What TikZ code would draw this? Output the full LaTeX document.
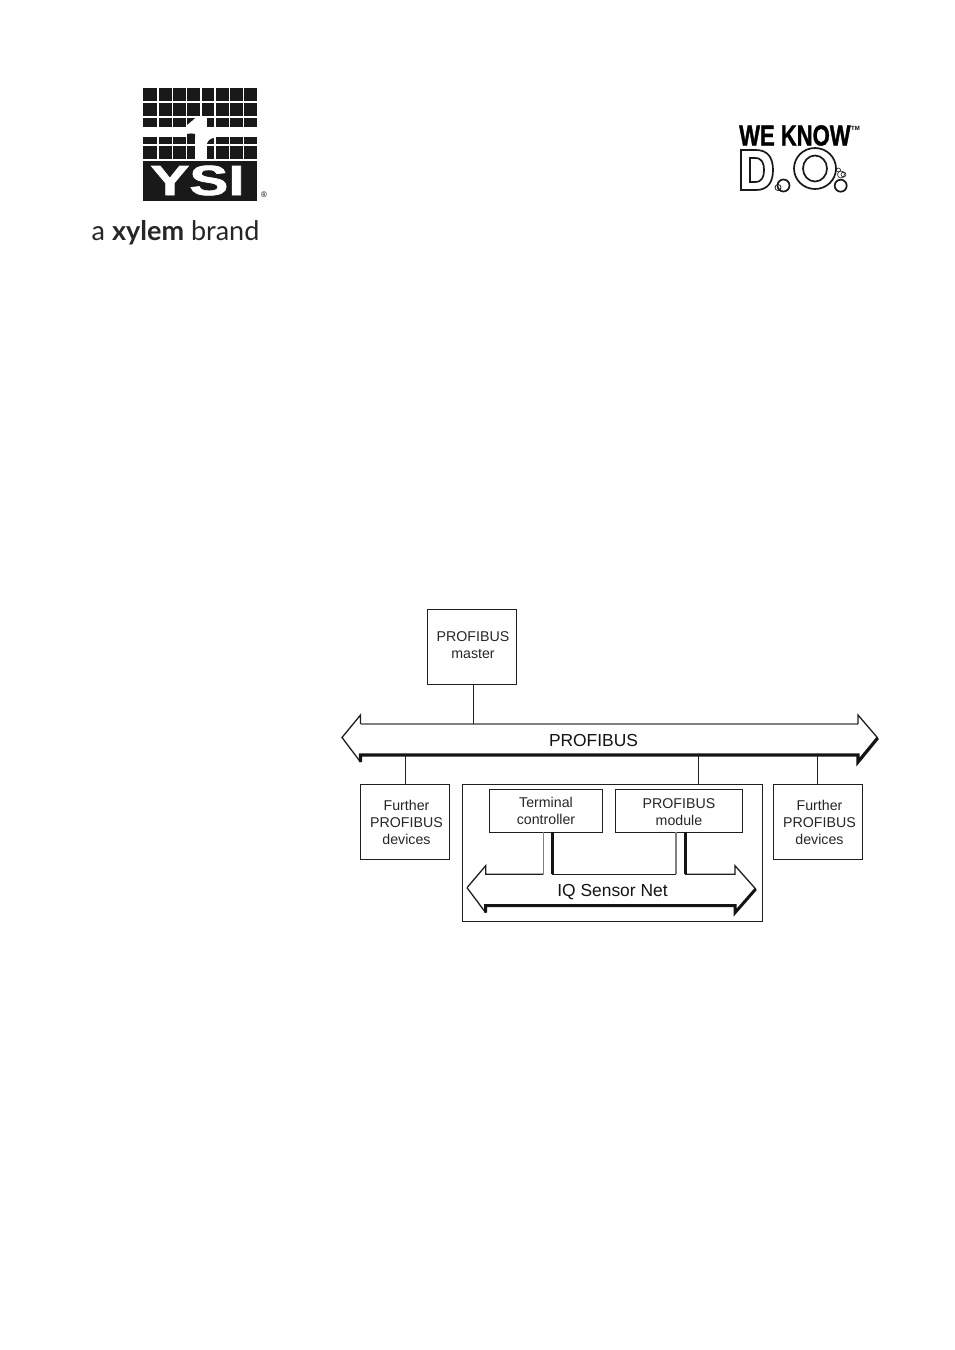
\documentclass[tikz,border=0pt]{standalone}
\usepackage{graphicx}
\usepackage{fontspec}
\setmainfont{Liberation Sans}
\newfontfamily\latofont{Lato}
\newfontfamily\heavyfont[FakeBold=1.5]{Liberation Sans Bold}
\newcommand{\fs}[2]{\fontsize{#1}{#2}\selectfont}
\tikzset{
  wire/.style={line width=1.3pt,draw=black!88},
  greywire/.style={line width=1.3pt,draw=black!50},
  thickwire/.style={line width=3.2pt,draw=black!92},
  boxnode/.style={draw=black!88,line width=1.3pt,fill=white,inner sep=0pt,outer sep=0pt,anchor=north west},
  smalltext/.style={text=black!85,inner sep=0pt,align=center,font=\fs{14.2}{17}},
  bigtext/.style={text=black!92,inner sep=0pt,font=\fs{17.4}{20}},
  cell/.style={fill=black!90,draw=none},
  logowhite/.style={fill=white,draw=none},
  ring/.style={draw=black!90,fill=white,line width=1.7pt},
}
\begin{document}
\begin{tikzpicture}[x=1pt,y=-1pt]
\useasboundingbox[fill=white] (0,0) rectangle (954,1350);

% --- YSI logo
\foreach \a/\b in {143.3/157.3,159/171.7,173/185.7,187/200.3,201.7/214.3,215.7/229,230.3/243,244.3/257.3}{
  \foreach \c/\d in {88/101.3,103.3/116.3,118.3/126.7,137.3/144.3,146.3/159.3}{
    \fill[cell] (\a,\c) rectangle (\b,\d);
  }
}
\fill[cell] (143.3,161) rectangle (257.3,200.7);
\fill[logowhite] (195,118.3) rectangle (206.7,161);
\fill[logowhite] (187,127) -- (187,125) .. controls (190,123) and (193,120) .. (195,118.3) -- (196,127) -- cycle;
\fill[cell] (187,137.4) -- (187,134) .. controls (190,133.5) and (193,133) .. (195,134) -- (195,137.4) -- cycle;
\fill[logowhite] (206,136.8) -- (215,136.8) -- (215,137.8) .. controls (210,138) and (207,141) .. (206.7,145) -- (206,145) -- cycle;
\node[inner sep=0pt,text=white] (ysi) at (197.5,180.5) {\heavyfont\fs{39}{39}\scalebox{1.5}[1.08]{YSI}};
\node[inner sep=0pt,text=black] (reg) at (264,195) {\fs{8}{9}®};
\node[inner sep=0pt,anchor=base west,text=black!85] (brand) at (91.5,240.3) {\latofont\fs{27}{30}a \textbf{xylem} brand};

% --- We know D.O. logo
\node[inner sep=0pt,anchor=base west,text=black] (weknow) at (739,145.5) {\heavyfont\fs{29}{29}\scalebox{0.76}[1]{WE KNOW}};
\node[inner sep=0pt,text=black] (tm) at (855.5,128) {\bfseries\fs{6}{7}TM};
\draw[ring,even odd rule] (741,150) -- (756,150) .. controls (768,150) and (773,158) .. (773,170)
  .. controls (773,182) and (768,190) .. (756,190) -- (741,190) -- cycle
  (750,158) -- (755,158) .. controls (762,158) and (764,163) .. (764,170)
  .. controls (764,177) and (762,182) .. (755,182) -- (750,182) -- cycle;
\draw[ring] (815,168.5) ellipse [x radius=21,y radius=20.5];
\draw[ring] (815,168.5) ellipse [x radius=12,y radius=13];
\draw[ring] (783.5,185.5) circle [radius=6];
\draw[draw=black!90,line width=0.8pt] (778,187.5) circle [radius=3];
\draw[ring] (840.7,185.7) circle [radius=6];
\draw[draw=black!90,line width=0.6pt] (838.5,170) circle [radius=2];
\draw[draw=black!90,line width=0.6pt] (841,174.5) circle [radius=3.5];
\draw[draw=black!90,line width=0.6pt] (843.5,174.5) circle [radius=2.5];

% --- main bus
\coordinate (busL) at (342,737.5);
\coordinate (busLt) at (360.5,715);
\coordinate (busLs) at (360.5,724);
\coordinate (busLb) at (360.5,755);
\coordinate (busLe) at (360.5,762);
\coordinate (busR) at (877.7,738);
\coordinate (busRt) at (858,715);
\coordinate (busRs) at (858,724);
\coordinate (busRb) at (858,755);
\coordinate (busRe) at (858,762);
\fill[white] (busL) -- (busLt) -- (busLs) -- (busRs) -- (busRt) -- (busR) -- (busRe) -- (busRb) -- (busLb) -- (busLe) -- cycle;
\draw[greywire] (busLs) -- (busRs);
\draw[wire] (busRs) -- (busRt) -- (busR);
\draw[wire] (busLs) -- (busLt) -- (busL) -- (busLe);
\draw[thickwire,line join=miter] (busLe) -- (busLb) -- (busRb) -- (busRe) -- (busR);
\node[bigtext] (busT) at (593.5,740) {PROFIBUS};

% --- boxes
\node[boxnode,minimum width=89.4pt,minimum height=75pt] (master) at (427.3,609.3) {};
\node[smalltext] (masterT) at (473,645) {PROFIBUS\\master};
\node[boxnode,minimum width=89.4pt,minimum height=75pt] (furtherL) at (360.3,784.3) {};
\node[smalltext] (furtherLT) at (406.5,822) {Further\\PROFIBUS\\devices};
\node[boxnode,minimum width=89.4pt,minimum height=75pt] (furtherR) at (773.3,784.3) {};
\node[smalltext] (furtherRT) at (819.5,822) {Further\\PROFIBUS\\devices};
\node[boxnode,minimum width=300.4pt,minimum height=137.4pt] (iq) at (462.3,784.3) {};
\node[boxnode,minimum width=113pt,minimum height=43pt] (terminal) at (489.7,789.3) {};
\node[smalltext] (terminalT) at (546,810.5) {Terminal\\controller};
\node[boxnode,minimum width=127pt,minimum height=43pt] (module) at (615.3,789.3) {};
\node[smalltext] (moduleT) at (679,812.5) {PROFIBUS\\module};

% --- links to the main bus
\coordinate (j1) at (473.3,724);
\coordinate (j2) at (405.3,755);
\coordinate (j3) at (698.3,755);
\coordinate (j4) at (817.3,755);
\draw[wire] (master.south -| j1) -- (j1);
\draw[wire] (j2) -- (furtherL.north -| j2);
\draw[wire] (j3) -- (iq.north -| j3);
\draw[wire] (j4) -- (furtherR.north -| j4);

% --- inner bus
\coordinate (inL) at (467,887.7);
\coordinate (inLt) at (485.7,865.7);
\coordinate (inLs) at (485.7,874.3);
\coordinate (inLb) at (485.7,905.7);
\coordinate (inLe) at (485.7,912.7);
\coordinate (inR) at (755.7,889);
\coordinate (inRt) at (735,865.7);
\coordinate (inRs) at (735,874.3);
\coordinate (inRb) at (735,905.7);
\coordinate (inRe) at (735,912.7);
\coordinate (g1) at (543.3,874.3);
\coordinate (k1) at (552,874.3);
\coordinate (g2) at (676,874.3);
\coordinate (k2) at (685,874.3);
\draw[greywire] (terminal.south -| g1) -- (g1);
\draw[line width=3pt,draw=black!92] (terminal.south -| k1) -- (k1);
\draw[greywire] (module.south -| g2) -- (g2);
\draw[line width=3pt,draw=black!92] (module.south -| k2) -- (k2);
\draw[wire] (inL) -- (inLt) -- (inLs) -- (g1);
\draw[wire] (k1) -- (g2);
\draw[wire] (k2) -- (inRs) -- (inRt) -- (inR);
\draw[wire] (inL) -- (inLe);
\draw[line width=3pt,draw=black!92] (inLe) -- (inLb) -- (inRb) -- (inRe) -- (inR);
\node[bigtext] (inT) at (612.5,892) {IQ Sensor Net};
\end{tikzpicture}
\end{document}
